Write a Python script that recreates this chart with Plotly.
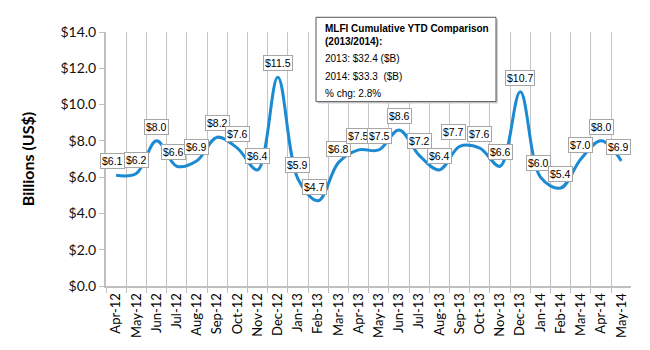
import plotly.graph_objects as go

months = ["Apr-12","May-12","Jun-12","Jul-12","Aug-12","Sep-12","Oct-12","Nov-12","Dec-12",
          "Jan-13","Feb-13","Mar-13","Apr-13","May-13","Jun-13","Jul-13","Aug-13","Sep-13",
          "Oct-13","Nov-13","Dec-13","Jan-14","Feb-14","Mar-14","Apr-14","May-14"]
values = [6.1, 6.2, 8.0, 6.6, 6.9, 8.2, 7.6, 6.4, 11.5, 5.9, 4.7, 6.8, 7.5, 7.5, 8.6, 7.2,
          6.4, 7.7, 7.6, 6.6, 10.7, 6.0, 5.4, 7.0, 8.0, 6.9]
label_xshift = [-4, 0, 0, -3, 0, 0, 0, 0, 0, 0, -4, 0, 0, 1, 0, 0, 0, -6, 0, 0, 0, -2, 0, 0, 0, -3]
y_ticks = [0, 2, 4, 6, 8, 10, 12, 14]
box_lines = ["<b>MLFI Cumulative YTD Comparison<br>(2013/2014):</b>",
             "2013: $32.4 ($B)", "2014: $33.3  ($B)", "% chg: 2.8%"]

fig = go.Figure()
fig.add_trace(go.Scatter(x=months, y=values, mode="lines",
                         line=dict(color="#1b8ad3", width=3, shape="spline", smoothing=1.0),
                         hoverinfo="skip", showlegend=False))

for m, v, dx in zip(months, values, label_xshift):
    fig.add_annotation(x=m, y=v, text=f"${v:.1f}", showarrow=False, yshift=14, xshift=dx,
                       font=dict(family="Liberation Sans, Arial", size=10.5, color="#000"),
                       bgcolor="white", bordercolor="#a6a6a6", borderwidth=1, borderpad=1)

# info box
fig.add_shape(type="rect", xref="paper", yref="paper",
              x0=(318 - 106) / 525, x1=(498 - 106) / 525,
              y0=(291 - 105) / 259, y1=(291 - 19) / 259,
              line=dict(width=0), fillcolor="#d0d0d0", layer="above")
fig.add_shape(type="rect", xref="paper", yref="paper",
              x0=(316 - 106) / 525, x1=(496 - 106) / 525,
              y0=(291 - 103) / 259, y1=(291 - 17) / 259,
              line=dict(width=1, color="#555"), fillcolor="white", layer="above")
line_y = [35, 59, 77, 95]
for txt, yy in zip(box_lines, line_y):
    fig.add_annotation(xref="paper", yref="paper", x=(323 - 106) / 525, y=(291 - yy) / 259,
                       text=txt, showarrow=False, xanchor="left", yanchor="middle", align="left",
                       font=dict(family="Liberation Sans, Arial", size=10, color="#000"))

fig.update_layout(
    width=650, height=350,
    margin=dict(l=106, r=19, t=32, b=59),
    paper_bgcolor="white", plot_bgcolor="white",
    xaxis=dict(type="category", range=[-0.5, 25.48], tickson="boundaries",
               showgrid=True, gridcolor="#c4c4c4", gridwidth=1,
               showline=True, linecolor="#bfbfbf", linewidth=2,
               ticks="outside", ticklen=5, tickcolor="#bfbfbf",
               tickangle=-90, tickfont=dict(family="Lato", size=13, color="#000")),
    yaxis=dict(range=[0, 14], tickvals=y_ticks, ticktext=[f"${t:.1f}" for t in y_ticks],
               showgrid=False, zeroline=False,
               showline=True, linecolor="#bfbfbf", linewidth=2,
               ticks="outside", ticklen=5, tickcolor="#bfbfbf",
               tickfont=dict(family="Lato", size=14, color="#111"),
               title=dict(text="<b>Billions (US$)</b>", standoff=22,
                          font=dict(family="Lato", size=16, color="#000"))),
)

fig.write_html("out.html")
